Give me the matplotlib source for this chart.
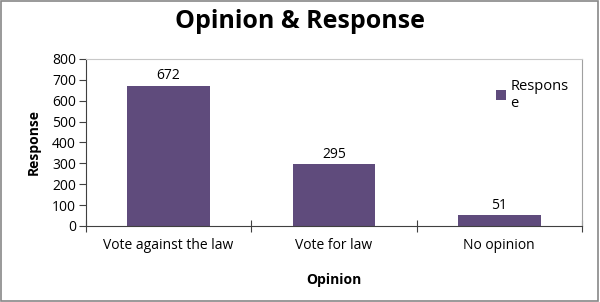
import matplotlib.pyplot as plt
from matplotlib.patches import Rectangle

categories = ["Vote against the law", "Vote for law", "No opinion"]
values = [672, 295, 51]
series_name = "Respons\ne"

plt.rcParams['font.family'] = ['Open Sans', 'DejaVu Sans']

fig = plt.figure(figsize=(6, 3.02), dpi=100)
ax = fig.add_axes([0.143, 0.252, 0.827, 0.553])

x = list(range(len(categories)))
bars = ax.bar(x, values, width=0.5, color="#5f4b7c", label=series_name)
for xi, v in zip(x, values):
    ax.text(xi, v + 12, str(v), ha="center", va="bottom", fontsize=10)

ax.set_xlim(-0.5, len(categories) - 0.5)
ax.set_ylim(0, 800)
ax.set_yticks(range(0, 801, 100))
ax.set_xticks([i - 0.5 for i in range(len(categories) + 1)], minor=False)
ax.set_xticklabels([])
ax.set_xticks(x, minor=True)
ax.set_xticklabels(categories, minor=True, fontsize=10)
ax.tick_params(axis="x", which="minor", length=0, pad=9)
ax.tick_params(axis="x", which="major", direction="inout", length=8, color="#404040")
ax.tick_params(axis="y", direction="out", length=5, labelsize=10, pad=2, color="#404040")

ax.spines["left"].set_color("#404040")
ax.spines["bottom"].set_color("#404040")
ax.spines["top"].set_color("#c8c8c8")
ax.spines["right"].set_color("#a0a0a0")

ax.set_ylabel("Response", fontsize=10, fontweight="bold", labelpad=8)
ax.set_xlabel("Opinion", fontsize=10, fontweight="bold", labelpad=14)

leg = ax.legend(loc="upper left", bbox_to_anchor=(0.8, 0.96), frameon=False,
                fontsize=10.5, handlelength=0.7, handleheight=0.7, handletextpad=0.3)

fig.text(0.5, 0.93, "Opinion & Response", ha="center", va="center",
         fontsize=18, fontweight="bold")

fig.patches.append(Rectangle((0.002, 0.003), 0.995, 0.993, transform=fig.transFigure,
                             fill=False, edgecolor="#888888", linewidth=1.2))

fig.savefig("out.png", dpi=100)
